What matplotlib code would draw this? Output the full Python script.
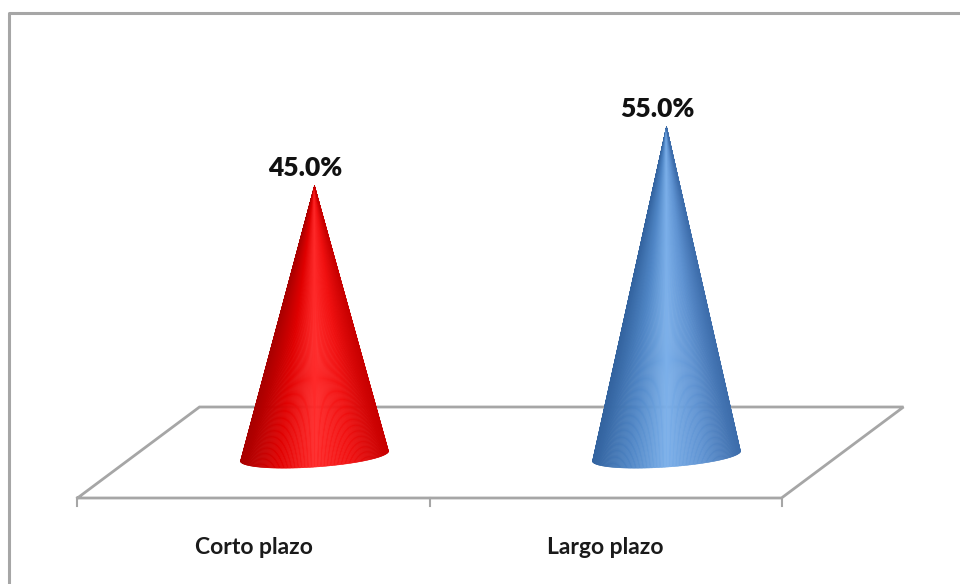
"""3D-style cone chart: Corto plazo vs Largo plazo share."""

import matplotlib.pyplot as plt
import numpy as np
from matplotlib.collections import PolyCollection
from matplotlib.colors import LinearSegmentedColormap

plt.rcParams["font.family"] = ["Lato", "DejaVu Sans"]

categories = ["Corto plazo", "Largo plazo"]
values = [45.0, 55.0]
labels = ["45.0%", "55.0%"]

# shading across each cone, left edge -> right edge
SHADES = [
    ["#a80000", "#e00000", "#ff2a2a", "#f01010", "#c80000"],
    ["#33639f", "#4f86c6", "#7cb0ea", "#5f93d2", "#3d6dab"],
]

W, H = 960, 584
fig = plt.figure(figsize=(W / 100, H / 100), dpi=100)
ax = fig.add_axes([0, 0, 1, 1])

# data units: x = category index, y = value; fixed pixel scale
PX_X = 352.0  # pixels per category
PX_Y = 5.92  # pixels per value unit
X0, Y0 = 253.5, 452.5  # pixel of (front category 0 center, value 0 at mid depth)
ax.set_xlim(-X0 / PX_X, (W - X0) / PX_X)
ax.set_ylim((Y0 - H) / PX_Y, Y0 / PX_Y)
ax.axis("off")

DX = 61 / PX_X  # half-depth shift in x
DY = 45.5 / PX_Y  # half-depth shift in y
grey = "#a6a6a6"

# floor parallelogram
n = len(categories)
fx = [-0.5, n - 0.5, n - 0.5 + 2 * DX, -0.5 + 2 * DX, -0.5]
fy = [-DY, -DY, DY, DY, -DY]
ax.plot(fx, fy, color=grey, lw=2, solid_joinstyle="miter", zorder=1)
for t in np.arange(n + 1) - 0.5:
    ax.plot([t, t], [-DY, -DY - 8 / PX_Y], color=grey, lw=1.5, zorder=1)

# cones
A = 74 / PX_X  # base half-width
B = 11 / PX_Y  # base half-height
TILT = 5 / PX_Y  # right side of base sits slightly higher
th = np.linspace(np.pi, 2 * np.pi, 160)
for i, (v, shades) in enumerate(zip(values, SHADES)):
    cx = i + DX
    bx = cx + A * np.cos(th)
    by = B * np.sin(th) + TILT * np.cos(th) - 0.6
    cmap = LinearSegmentedColormap.from_list("c", shades)
    polys, cols = [], []
    for k in range(len(th) - 1):
        polys.append([(cx, v), (bx[k], by[k]), (bx[k + 1], by[k + 1])])
        f = (bx[k] - (cx - A)) / (2 * A)
        cols.append(cmap(f))
    pc = PolyCollection(polys, facecolors=cols, edgecolors=cols, linewidths=0.4, zorder=3)
    ax.add_collection(pc)
    ax.text(cx - 0.025, v + 1.0, labels[i], ha="center", va="bottom",
            fontsize=19, fontweight="heavy", color="#111111", zorder=4)

# category labels under the front edge
for i, c in enumerate(categories):
    ax.text(i, -DY - 50 / PX_Y, c, ha="center", va="center",
            fontsize=16.5, fontweight="bold", color="#1a1a1a")

# chart frame (top and left visible)
fig.add_artist(plt.Line2D([9 / W, 9 / W, 1], [0, 1 - 13 / H, 1 - 13 / H],
                          color=grey, lw=2.2, transform=fig.transFigure))

fig.savefig("out.png", dpi=100)
